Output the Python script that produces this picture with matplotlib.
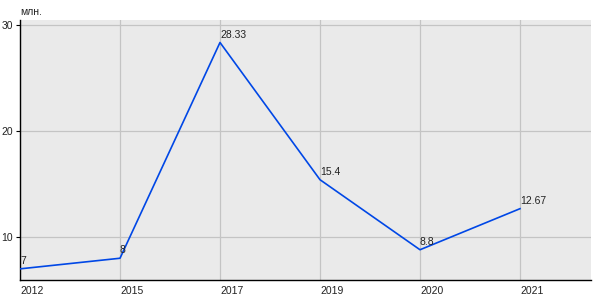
import matplotlib.pyplot as plt

plt.rcParams["font.family"] = ["Liberation Sans", "DejaVu Sans"]

years = ["2012", "2015", "2017", "2019", "2020", "2021"]
values = [7, 8, 28.33, 15.4, 8.8, 12.67]
value_labels = ["7", "8", "28.33", "15.4", "8.8", "12.67"]
y_ticks = [10, 20, 30]

fig = plt.figure(figsize=(6, 3), dpi=100)
ax = fig.add_axes([20 / 600, 20 / 300, 571 / 600, 260 / 300])
ax.set_facecolor("#eaeaea")

x = list(range(len(years)))
ax.plot(x, values, color="#0047e6", lw=1.2, zorder=3)
for xi, v, lab in zip(x, values, value_labels):
    ax.annotate(lab, (xi, v), xytext=(0, 2), textcoords="offset points",
                ha="left", va="bottom", fontsize=7.5, color="#222222", zorder=4)

ax.set_xlim(0, 5.71)
ax.set_ylim(5.95, 30.45)
ax.set_xticks(x)
ax.set_xticklabels(years, ha="left")
ax.set_yticks(y_ticks)
ax.tick_params(axis="x", length=0, pad=4, labelsize=7.5, colors="#222222")
ax.tick_params(axis="y", length=3, width=0.8, pad=2, labelsize=7.5, colors="#222222")
ax.tick_params(axis="y", color="black")
ax.grid(True, color="#c4c4c4", lw=0.9, zorder=0)
ax.set_axisbelow(True)
for s in ["top", "right"]:
    ax.spines[s].set_visible(False)
for s in ["left", "bottom"]:
    ax.spines[s].set_color("black")
    ax.spines[s].set_linewidth(1.0)

fig.text(20 / 600, 1 - 12 / 300, "млн.", fontsize=7.5, color="#222222", ha="left", va="center")

fig.savefig("out.png", dpi=100)
